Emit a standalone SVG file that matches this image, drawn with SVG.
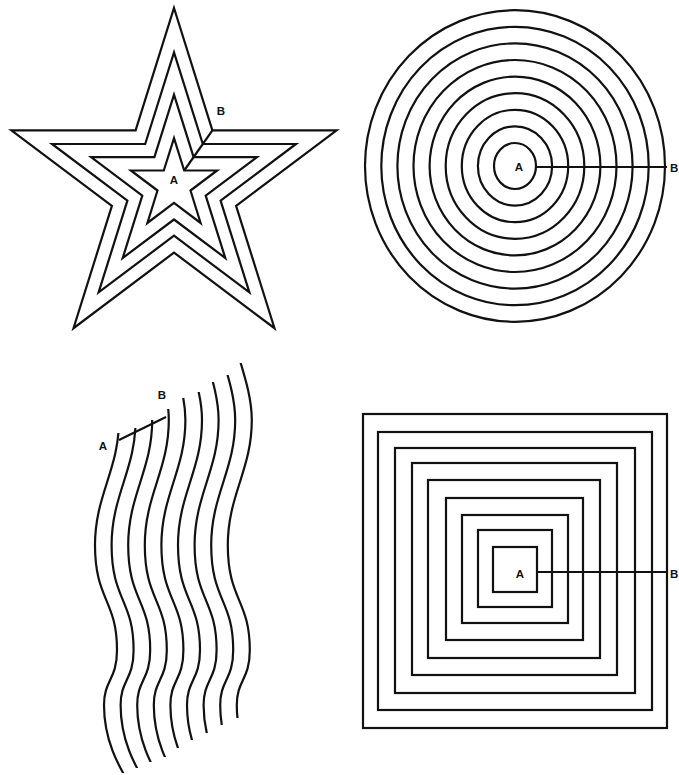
<svg xmlns="http://www.w3.org/2000/svg" width="679" height="775" viewBox="0 0 679 775">
<style>
.s{fill:none;stroke:#111;stroke-width:2.2;stroke-linejoin:miter}
.w{fill:none;stroke:#111;stroke-width:2.2;stroke-linecap:round}
.t{font-family:"Liberation Sans",Arial,sans-serif;font-size:11.5px;font-weight:bold;fill:#111;text-anchor:middle}
.e{text-anchor:start}
</style>
<defs>
<path id="wave" d="M107,360 C113,380 119,400 119,420 C119,470 95,495 95,545 C95,600 117,600 117,650 C117,680 104,680 104,705 C104,740 118,765 130,785"/>
<clipPath id="c0" clipPathUnits="userSpaceOnUse"><rect x="0" y="433" width="400" height="340"/></clipPath>
<clipPath id="c1" clipPathUnits="userSpaceOnUse"><rect x="0" y="428" width="400" height="340"/></clipPath>
<clipPath id="c2" clipPathUnits="userSpaceOnUse"><rect x="0" y="420" width="400" height="342"/></clipPath>
<clipPath id="c3" clipPathUnits="userSpaceOnUse"><rect x="0" y="409" width="400" height="348"/></clipPath>
<clipPath id="c4" clipPathUnits="userSpaceOnUse"><rect x="0" y="398" width="400" height="350"/></clipPath>
<clipPath id="c5" clipPathUnits="userSpaceOnUse"><rect x="0" y="392" width="400" height="348"/></clipPath>
<clipPath id="c6" clipPathUnits="userSpaceOnUse"><rect x="0" y="382" width="400" height="351"/></clipPath>
<clipPath id="c7" clipPathUnits="userSpaceOnUse"><rect x="0" y="375" width="400" height="350"/></clipPath>
<clipPath id="c8" clipPathUnits="userSpaceOnUse"><rect x="0" y="363" width="400" height="355"/></clipPath>
</defs>
<rect width="679" height="775" fill="#fff"/>

<g id="star">
<polygon class="s" points="174,8 212.4,130.3 336.6,130.3 236.1,205.9 274.5,328.2 174,252.6 73.5,328.2 111.9,205.9 11.4,130.3 135.6,130.3"/>
<polygon class="s" points="174,52.3 202.8,144 296,144 220.6,200.7 249.4,292.4 174,235.7 98.6,292.4 127.4,200.7 52,144 145.2,144"/>
<polygon class="s" points="174,94.7 193.6,157.1 257,157.1 205.7,195.7 225.3,258 174,219.5 122.7,258 142.3,195.7 91.1,157.1 154.4,157.1"/>
<polygon class="s" points="174,138.1 184.2,170.5 217.1,170.5 190.5,190.5 200.6,223 174,202.9 147.4,223 157.5,190.5 130.9,170.5 163.8,170.5"/>
<text class="t" x="174" y="184">A</text>
<text class="t" x="221" y="115">B</text>
</g>

<g id="circles">
<ellipse class="s" cx="515" cy="166" rx="21" ry="23"/>
<ellipse class="s" cx="515" cy="166" rx="37.1" ry="39.6"/>
<ellipse class="s" cx="515" cy="166" rx="53.2" ry="56.2"/>
<ellipse class="s" cx="515" cy="166" rx="69.3" ry="72.8"/>
<ellipse class="s" cx="515" cy="166" rx="85.4" ry="89.4"/>
<ellipse class="s" cx="515" cy="166" rx="101.5" ry="106"/>
<ellipse class="s" cx="515" cy="166" rx="117.6" ry="122.6"/>
<ellipse class="s" cx="515" cy="166" rx="133.7" ry="139.2"/>
<ellipse class="s" cx="515" cy="166" rx="150" ry="155.8"/>
<text class="t" x="519" y="171">A</text>
<text class="t e" x="670" y="172">B</text>
</g>

<g id="waves">
<g clip-path="url(#c0)"><use href="#wave" class="w" transform="translate(0,0)"/></g>
<g clip-path="url(#c1)"><use href="#wave" class="w" transform="translate(16.6,0)"/></g>
<g clip-path="url(#c2)"><use href="#wave" class="w" transform="translate(33.2,0)"/></g>
<g clip-path="url(#c3)"><use href="#wave" class="w" transform="translate(49.8,0)"/></g>
<g clip-path="url(#c4)"><use href="#wave" class="w" transform="translate(66.4,0)"/></g>
<g clip-path="url(#c5)"><use href="#wave" class="w" transform="translate(83,0)"/></g>
<g clip-path="url(#c6)"><use href="#wave" class="w" transform="translate(99.6,0)"/></g>
<g clip-path="url(#c7)"><use href="#wave" class="w" transform="translate(116.2,0)"/></g>
<g clip-path="url(#c8)"><use href="#wave" class="w" transform="translate(132.8,0)"/></g>
<text class="t" x="103" y="450">A</text>
<text class="t" x="162" y="399">B</text>
</g>

<g id="squares">
<rect class="s" x="363" y="414" width="304" height="314"/>
<rect class="s" x="378" y="432" width="274" height="278"/>
<rect class="s" x="395" y="448" width="240" height="245"/>
<rect class="s" x="412" y="463" width="205" height="212"/>
<rect class="s" x="428" y="480" width="172" height="178"/>
<rect class="s" x="446" y="498" width="137" height="142"/>
<rect class="s" x="462" y="515" width="106" height="108"/>
<rect class="s" x="478" y="530" width="74" height="77"/>
<rect class="s" x="493" y="547" width="44" height="45"/>
<text class="t" x="520" y="578">A</text>
<text class="t e" x="670" y="578">B</text>
</g>

<g id="connectors">
<line class="s" x1="212.4" y1="130.3" x2="184.2" y2="170.5"/>
<line class="s" x1="536" y1="167" x2="667" y2="167"/>
<line class="s" x1="119" y1="440" x2="166" y2="417"/>
<line class="s" x1="537" y1="572" x2="667" y2="572"/>
</g>
</svg>
